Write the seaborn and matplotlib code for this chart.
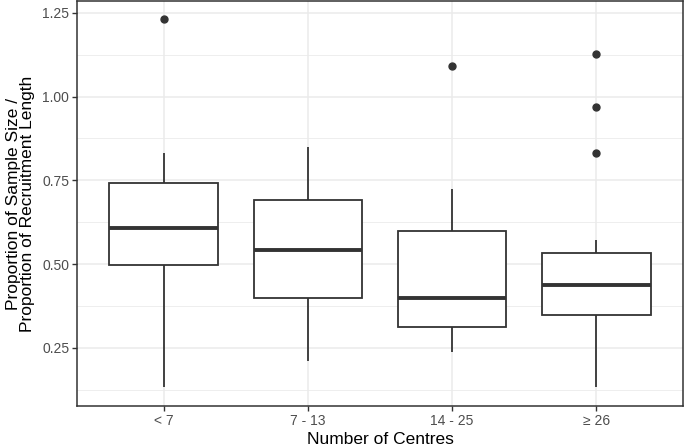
import numpy as np
import pandas as pd
import matplotlib
matplotlib.use("Agg")
import matplotlib.pyplot as plt
import seaborn as sns

# values, one small list per group of centres
categories = ["< 7", "7 - 13", "14 - 25", "≥ 26"]
lt_7 = [0.134, 0.42, 0.498, 0.55, 0.608, 0.68, 0.743, 0.830, 1.230]
c7_13 = [0.210, 0.33, 0.399, 0.47, 0.541, 0.62, 0.692, 0.77, 0.848]
c14_25 = [0.237, 0.28, 0.311, 0.36, 0.399, 0.50, 0.600, 0.724, 1.092]
ge_26 = [0.132, 0.22, 0.27, 0.31, 0.349, 0.37, 0.39, 0.41, 0.437,
         0.46, 0.48, 0.51, 0.533, 0.571, 0.830, 0.968, 1.128]
y_ticks = [0.25, 0.50, 0.75, 1.00, 1.25]

groups = [lt_7, c7_13, c14_25, ge_26]
df = pd.DataFrame({
    "centres": np.repeat(categories, [len(g) for g in groups]),
    "ratio": np.concatenate(groups),
})

sns.set_theme(style="whitegrid")
plt.rcParams["font.family"] = ["Liberation Sans", "DejaVu Sans"]

dark = "#333333"
grid = "#EBEBEB"

fig = plt.figure(figsize=(6.85, 4.46), dpi=100)
ax = fig.add_axes([77 / 685, 40 / 446, 606 / 685, 405 / 446])

sns.boxplot(data=df, x="centres", y="ratio", order=categories, ax=ax,
            width=0.75, color="white", linecolor=dark, linewidth=1.3,
            showcaps=False,
            boxprops=dict(facecolor="white", edgecolor=dark),
            medianprops=dict(color=dark, linewidth=2.8),
            flierprops=dict(marker="o", markerfacecolor=dark,
                            markeredgecolor=dark, markersize=5))

ax.set_xlim(-0.6, 3.6)
ax.set_ylim(0.0765, 1.285)
ax.set_yticks(y_ticks)
ax.set_yticklabels([f"{v:.2f}" for v in y_ticks])
ax.set_yticks([0.125, 0.375, 0.625, 0.875, 1.125], minor=True)

ax.set_axisbelow(True)
ax.grid(True, which="major", color=grid, linewidth=1.1)
ax.grid(True, which="minor", axis="y", color=grid, linewidth=0.6)
ax.xaxis.grid(True, color=grid, linewidth=1.1)

for s in ax.spines.values():
    s.set_visible(True)
    s.set_color(dark)
    s.set_linewidth(1.1)

ax.tick_params(axis="both", which="major", length=3.5, width=1.0, color=dark,
               labelcolor="#4D4D4D", labelsize=10, pad=2, bottom=True, left=True)
ax.tick_params(axis="y", which="minor", length=0)

ax.set_xlabel("Number of Centres", fontsize=12.5, color="black", labelpad=3)
ax.set_ylabel("Proportion of Sample Size /\nProportion of Recruitment Length",
              fontsize=12.5, color="black", labelpad=5, linespacing=0.95)

fig.savefig("out.png", dpi=100)
